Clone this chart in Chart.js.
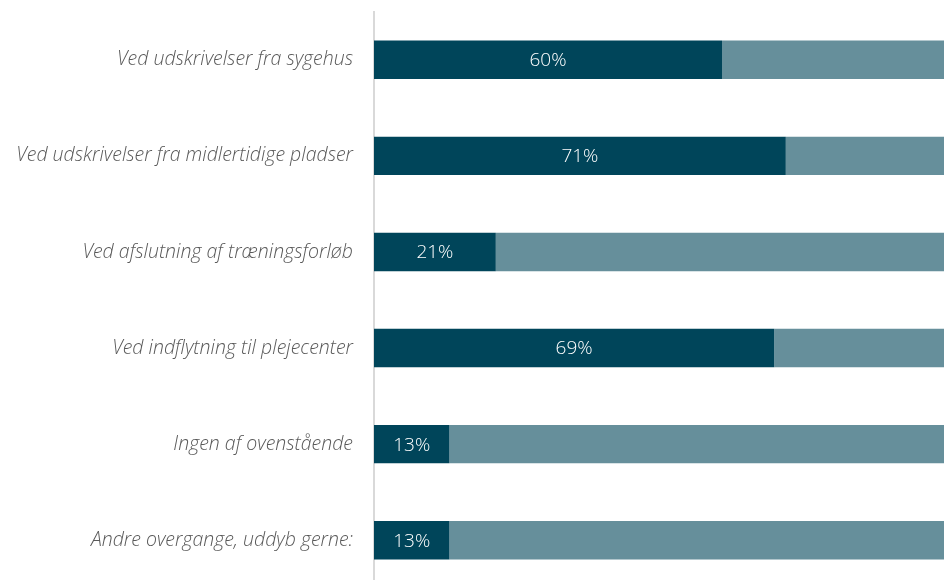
<!DOCTYPE html>
<html>
<head>
<meta charset="utf-8">
<script src="https://cdn.jsdelivr.net/npm/chart.js@4"></script>
<style>
    html, body { margin: 0; padding: 0; background: #ffffff; overflow: hidden; }
    #wrap { width: 954px; height: 580px; overflow: hidden; }
    #chart { display: block; }
</style>
</head>
<body>
<div id="wrap"><canvas id="chart" width="954" height="626"></canvas></div>
<script>
// Chart data
const categories = [
    'Ved udskrivelser fra sygehus',
    'Ved udskrivelser fra midlertidige pladser',
    'Ved afslutning af træningsforløb',
    'Ved indflytning til plejecenter',
    'Ingen af ovenstående',
    'Andre overgange, uddyb gerne:'
];
const yesValues = [60, 71, 21, 69, 13, 13];
const restValues = [40, 29, 79, 31, 87, 87];

// Draw the percentage inside the dark bars
const barLabels = {
    id: 'barLabels',
    afterDatasetsDraw(chart) {
        const ctx = chart.ctx;
        const meta = chart.getDatasetMeta(0);
        ctx.save();
        ctx.fillStyle = '#ffffff';
        ctx.font = '300 19px "Open Sans", sans-serif';
        ctx.textAlign = 'center';
        ctx.textBaseline = 'middle';
        meta.data.forEach((bar, i) => {
            const x = (bar.x + bar.base) / 2;
            ctx.fillText(yesValues[i] + '%', x, bar.y + 1);
        });
        ctx.restore();
    }
};

const chart = new Chart(document.getElementById('chart').getContext('2d'), {
    type: 'bar',
    data: {
        labels: categories,
        datasets: [
            {
                data: yesValues,
                backgroundColor: '#00455a',
                categoryPercentage: 1,
                barPercentage: 0.4
            },
            {
                data: restValues,
                backgroundColor: '#668f9b',
                categoryPercentage: 1,
                barPercentage: 0.4
            }
        ]
    },
    options: {
        indexAxis: 'y',
        responsive: false,
        animation: false,
        layout: { padding: 0 },
        plugins: {
            legend: { display: false },
            tooltip: { enabled: false }
        },
        scales: {
            x: {
                stacked: true,
                display: false,
                min: 0,
                max: 100
            },
            y: {
                stacked: true,
                grid: { display: false },
                border: { display: true, color: '#d9d9d9', width: 2 },
                ticks: {
                    color: '#595959',
                    padding: 13,
                    font: { family: '"Open Sans", sans-serif', size: 19.5, style: 'italic', weight: 300 }
                },
                afterFit: function(scale) {
                    scale.width = 374;
                }
            }
        }
    },
    plugins: [barLabels]
});

// shift the canvas so the plot area starts where the reference does
document.getElementById('chart').style.marginTop = (12 - chart.chartArea.top) + 'px';
</script>
</body>
</html>
